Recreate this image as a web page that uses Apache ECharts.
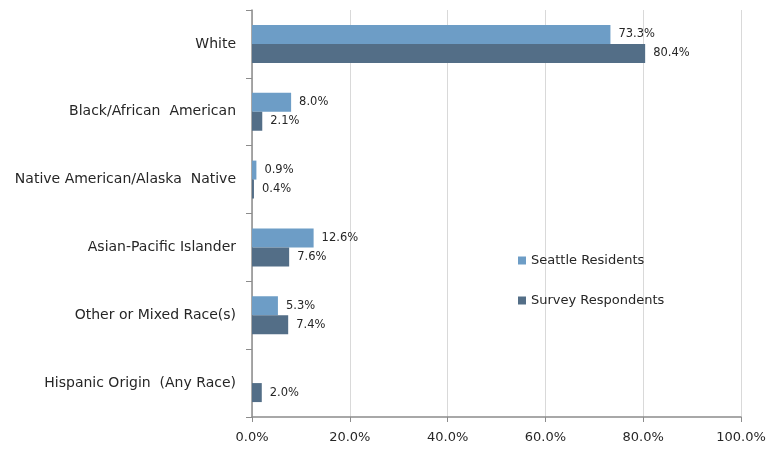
<!DOCTYPE html>
<html>
<head>
<meta charset="utf-8">
<script src="https://cdn.jsdelivr.net/npm/echarts@6/dist/echarts.min.js"></script>
<style>
  html, body { margin: 0; padding: 0; background: #fff; }
  #chart { width: 769px; height: 453px; }
</style>
</head>
<body>
<div id="chart"></div>
<script>
// race / ethnicity breakdown
const categories = [
  'White',
  'Black/African  American',
  'Native American/Alaska  Native',
  'Asian-Pacific Islander',
  'Other or Mixed Race(s)',
  'Hispanic Origin  (Any Race)'
];
const seattleResidents = [73.3, 8.0, 0.9, 12.6, 5.3, null];
const surveyRespondents = [80.4, 2.1, 0.4, 7.6, 7.4, 2.0];
const xTicks = [0, 20, 40, 60, 80, 100];

const font = '"DejaVu Sans", sans-serif';

const chart = echarts.init(document.getElementById('chart'));

const label = {
  show: true,
  position: 'right',
  distance: 8,
  color: '#262626',
  fontSize: 11.5,
  fontFamily: font,
  formatter: p => p.value == null ? '' : p.value.toFixed(1) + '%'
};

const option = {
  animation: false,
  textStyle: { fontFamily: font },
  grid: { left: 252, right: 28, top: 10, bottom: 36, containLabel: false },
  legend: {
    orient: 'vertical',
    left: 513,
    top: 249,
    itemWidth: 8,
    itemHeight: 8,
    itemGap: 27,
    icon: 'rect',
    textStyle: { fontSize: 13, color: '#262626', fontFamily: font },
    data: ['Seattle Residents', 'Survey Respondents']
  },
  xAxis: {
    type: 'value',
    min: 0,
    max: 100,
    interval: 20,
    axisLine: { show: true, lineStyle: { color: '#8c8c8c', width: 1.5 } },
    axisTick: { show: true, length: 5, lineStyle: { color: '#8c8c8c' } },
    splitLine: { show: true, lineStyle: { color: '#d9d9d9' } },
    axisLabel: {
      color: '#262626',
      fontSize: 13,
      fontFamily: font,
      margin: 14,
      formatter: v => xTicks.includes(v) ? v.toFixed(1) + '%' : ''
    }
  },
  yAxis: {
    type: 'category',
    inverse: true,
    data: categories,
    axisLine: { show: true, lineStyle: { color: '#8c8c8c', width: 1.5 } },
    axisTick: { show: true, length: 6, lineStyle: { color: '#8c8c8c' } },
    axisLabel: {
      color: '#262626',
      fontSize: 14,
      fontFamily: font,
      margin: 16
    }
  },
  series: [
    {
      name: 'Seattle Residents',
      type: 'bar',
      data: seattleResidents,
      barGap: '0%',
      barCategoryGap: '44%',
      itemStyle: { color: '#6d9dc6' },
      label: label
    },
    {
      name: 'Survey Respondents',
      type: 'bar',
      data: surveyRespondents,
      itemStyle: { color: '#536e87' },
      label: label
    }
  ]
};

chart.setOption(option);
</script>
</body>
</html>
